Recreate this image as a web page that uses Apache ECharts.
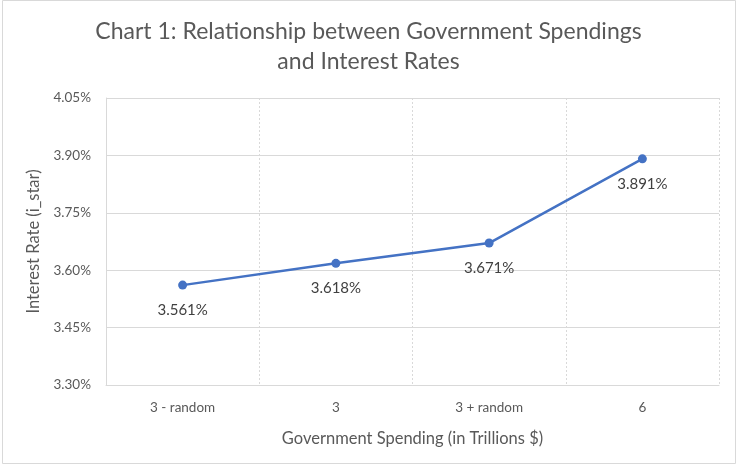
<!DOCTYPE html>
<html>
<head>
<meta charset="utf-8">
<script src="https://cdn.jsdelivr.net/npm/echarts@6/dist/echarts.min.js"></script>
<style>
  html, body { margin: 0; padding: 0; background: #fff; }
  #chart { width: 737px; height: 466px; }
</style>
</head>
<body>
<div id="chart"></div>
<script>
// Government spending scenarios and the resulting interest rate (percent)
const categories = ['3 - random', '3', '3 + random', '6'];
const interestRates = [3.561, 3.618, 3.671, 3.891];
const yMin = 3.30;
const yMax = 4.05;
const yStep = 0.15;

const FONT = 'Lato, "Open Sans", sans-serif';
const chart = echarts.init(document.getElementById('chart'), null, { renderer: 'canvas' });

chart.setOption({
  animation: false,
  backgroundColor: '#ffffff',
  title: {
    text: 'Chart 1: Relationship between Government Spendings\nand Interest Rates',
    left: 'center',
    top: 12,
    textStyle: { fontFamily: FONT, fontSize: 23, fontWeight: 'normal', color: '#595959', lineHeight: 30 }
  },
  graphic: [{
    type: 'rect',
    shape: { x: 2.5, y: 0.5, width: 733, height: 463 },
    style: { fill: 'none', stroke: '#d9d9d9', lineWidth: 1 },
    silent: true
  }],
  grid: { left: 106, right: 18, top: 98, bottom: 81 },
  xAxis: {
    type: 'category',
    data: categories,
    boundaryGap: true,
    name: 'Government Spending (in Trillions $)',
    nameLocation: 'middle',
    nameGap: 45,
    nameTextStyle: { fontFamily: FONT, fontSize: 16.5, color: '#595959' },
    axisLine: { show: true, lineStyle: { color: '#d9d9d9', width: 1 } },
    axisTick: { show: false },
    axisLabel: { fontFamily: FONT, fontSize: 13.5, color: '#595959', margin: 16 },
    splitLine: { show: true, lineStyle: { color: '#d9d9d9', type: [2, 2], width: 1 } }
  },
  yAxis: {
    type: 'value',
    min: yMin,
    max: yMax,
    interval: yStep,
    name: 'Interest Rate (i_star)',
    nameLocation: 'middle',
    nameGap: 61,
    nameRotate: 90,
    nameTextStyle: { fontFamily: FONT, fontSize: 16.5, color: '#595959' },
    axisLine: { show: true, lineStyle: { color: '#d9d9d9', width: 1 } },
    axisTick: { show: false },
    axisLabel: {
      fontFamily: FONT, fontSize: 13.5, color: '#595959', margin: 15,
      formatter: v => v.toFixed(2) + '%'
    },
    splitLine: { show: true, lineStyle: { color: '#d9d9d9', width: 1 } }
  },
  series: [{
    type: 'line',
    data: interestRates,
    symbol: 'circle',
    symbolSize: 9,
    lineStyle: { color: '#4472C4', width: 2.5 },
    itemStyle: { color: '#4472C4' },
    label: {
      show: true,
      position: 'bottom',
      distance: 13,
      fontFamily: FONT,
      fontSize: 15,
      color: '#404040',
      formatter: p => p.value.toFixed(3) + '%'
    }
  }]
});
</script>
</body>
</html>
